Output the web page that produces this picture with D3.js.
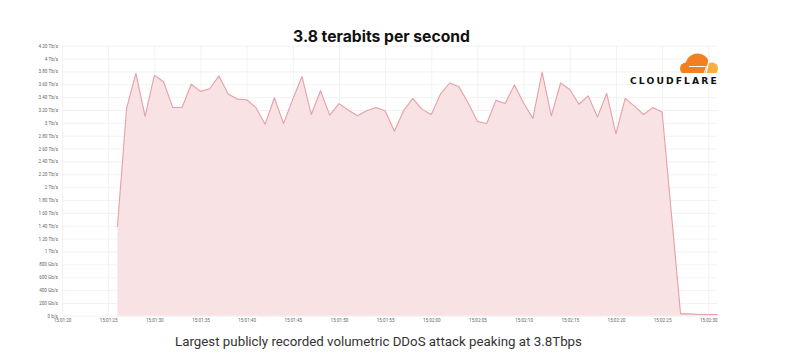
<!DOCTYPE html>
<html><head><meta charset="utf-8">
<script src="https://cdn.jsdelivr.net/npm/d3@7"></script>
<style>body{margin:0;background:#fff}svg{display:block}</style>
</head><body>
<svg id="c" width="800" height="356"></svg>
<script>
// seconds after 15:01:20
const seconds = [6,7,8,9,10,11,12,13,14,15,16,17,18,19,20,21,22,23,24,25,26,27,28,29,30,31,32,33,34,35,36,37,38,39,40,41,42,43,44,45,46,47,48,49,50,51,52,53,54,55,56,57,58,59,60,61,62,63,64,65,66,67,68,69,70,71];
// Tb/s
const tbps = [1.38,3.23,3.77,3.10,3.74,3.64,3.24,3.24,3.60,3.49,3.53,3.73,3.45,3.37,3.36,3.24,2.98,3.39,2.99,3.37,3.72,3.13,3.50,3.12,3.30,3.20,3.11,3.19,3.24,3.19,2.87,3.19,3.38,3.21,3.13,3.45,3.62,3.56,3.31,3.02,2.99,3.35,3.30,3.59,3.31,3.07,3.79,3.11,3.62,3.52,3.29,3.42,3.09,3.46,2.83,3.38,3.26,3.13,3.24,3.17,1.60,0.03,0.03,0.02,0.02,0.02];
const yTickValues = [0,0.2,0.4,0.6,0.8,1,1.2,1.4,1.6,1.8,2,2.2,2.4,2.6,2.8,3,3.2,3.4,3.6,3.8,4,4.2];
const yTickLabels = ["0 b/s","200 Gb/s","400 Gb/s","600 Gb/s","800 Gb/s","1 Tb/s","1.20 Tb/s","1.40 Tb/s","1.60 Tb/s","1.80 Tb/s","2 Tb/s","2.20 Tb/s","2.40 Tb/s","2.60 Tb/s","2.80 Tb/s","3 Tb/s","3.20 Tb/s","3.40 Tb/s","3.60 Tb/s","3.80 Tb/s","4 Tb/s","4.20 Tb/s"];
const xTickValues = [0,5,10,15,20,25,30,35,40,45,50,55,60,65,70];
const xTickLabels = ["15:01:20","15:01:25","15:01:30","15:01:35","15:01:40","15:01:45","15:01:50","15:01:55","15:02:00","15:02:05","15:02:10","15:02:15","15:02:20","15:02:25","15:02:30"];
const title = "3.8 terabits per second";
const caption = "Largest publicly recorded volumetric DDoS attack peaking at 3.8Tbps";

const svg = d3.select("#c");
const x = d3.scaleLinear().domain([0,71]).range([62,717.5]);
const y = d3.scaleLinear().domain([0,4.2]).range([315.8,45.7]);
const data = seconds.map((s,i)=>({s, v:tbps[i]}));

// grid
const g = svg.append("g");
g.append("g").attr("transform","translate(62,0)")
  .call(d3.axisLeft(y).tickValues(yTickValues).tickSize(-(717.5-62)).tickFormat(""))
  .call(a=>a.select(".domain").remove())
  .call(a=>a.selectAll("line").attr("stroke","#efefef").attr("stroke-width",0.8));
g.append("g").attr("transform","translate(0,315.8)")
  .call(d3.axisBottom(x).tickValues(xTickValues).tickSize(-(315.8-45.7)).tickFormat(""))
  .call(a=>a.select(".domain").remove())
  .call(a=>a.selectAll("line").attr("stroke","#efefef").attr("stroke-width",0.8));

// area + line
svg.append("path").datum(data)
  .attr("d", d3.area().x(d=>x(d.s)).y0(y(0)).y1(d=>y(d.v)))
  .attr("fill","#f8e2e4");
svg.append("path").datum(data)
  .attr("d", d3.line().x(d=>x(d.s)).y(d=>y(d.v)))
  .attr("fill","none").attr("stroke","#e6a0a6").attr("stroke-width",1.1).attr("stroke-linejoin","round");

// tick labels
svg.append("g").attr("transform","translate(58,0)")
  .call(d3.axisLeft(y).tickValues(yTickValues).tickSize(0).tickPadding(0).tickFormat((d,i)=>yTickLabels[i]))
  .call(a=>a.select(".domain").remove())
  .call(a=>a.selectAll("text").attr("font-family","Roboto, sans-serif").attr("font-size",4.6).attr("fill","#666"));
svg.append("g").attr("transform","translate(0,318.5)")
  .call(d3.axisBottom(x).tickValues(xTickValues).tickSize(0).tickPadding(0).tickFormat((d,i)=>xTickLabels[i]))
  .call(a=>a.select(".domain").remove())
  .call(a=>a.selectAll("text").attr("font-family","Roboto, sans-serif").attr("font-size",4.6).attr("fill","#666"));

function fitText(sel, targetW){
  const base = +sel.attr("font-size");
  const w = sel.node().getComputedTextLength();
  sel.attr("font-size", base*targetW/w);
}
const t = svg.append("text").attr("x",381.5).attr("y",41.5).attr("text-anchor","middle")
  .attr("font-family","Inter, sans-serif").attr("font-weight",700).attr("font-size",17).attr("fill","#111").text(title);
fitText(t,177);
const c = svg.append("text").attr("x",378.5).attr("y",346).attr("text-anchor","middle")
  .attr("font-family","Roboto, sans-serif").attr("font-size",14).attr("fill","#333").text(caption);
fitText(c,407);

// Cloudflare logo
const logo = svg.append("g");
const clip = svg.append("clipPath").attr("id","cl");
clip.append("rect").attr("x",670).attr("y",40).attr("width",60).attr("height",33);
const cloud = logo.append("g").attr("clip-path","url(#cl)");
cloud.append("circle").attr("cx",697.5).attr("cy",65.5).attr("r",12).attr("fill","#f38020");
cloud.append("circle").attr("cx",686).attr("cy",68.5).attr("r",6).attr("fill","#f38020");
cloud.append("rect").attr("x",684).attr("y",66).attr("width",24).attr("height",7).attr("fill","#f38020");
cloud.append("circle").attr("cx",712).attr("cy",68.5).attr("r",6).attr("fill","#faae40");
cloud.append("rect").attr("x",706).attr("y",68.5).attr("width",7).attr("height",4.5).attr("fill","#faae40");
cloud.append("path").attr("d","M689,66.5 L706.5,66.5 L704,73.5").attr("fill","none").attr("stroke","#fff").attr("stroke-width",1);
cloud.append("path").attr("d","M709,60 L706,73.5").attr("fill","none").attr("stroke","#fff").attr("stroke-width",1.2);
const lt = logo.append("text").attr("x",630).attr("y",83.6)
  .attr("font-family","'DejaVu Sans', sans-serif").attr("font-weight",700).attr("font-size",9.2).attr("fill","#111").text("CLOUDFLARE");
const lw = lt.node().getComputedTextLength();
lt.attr("letter-spacing", (88 - lw)/9.6);
</script>
</body></html>
